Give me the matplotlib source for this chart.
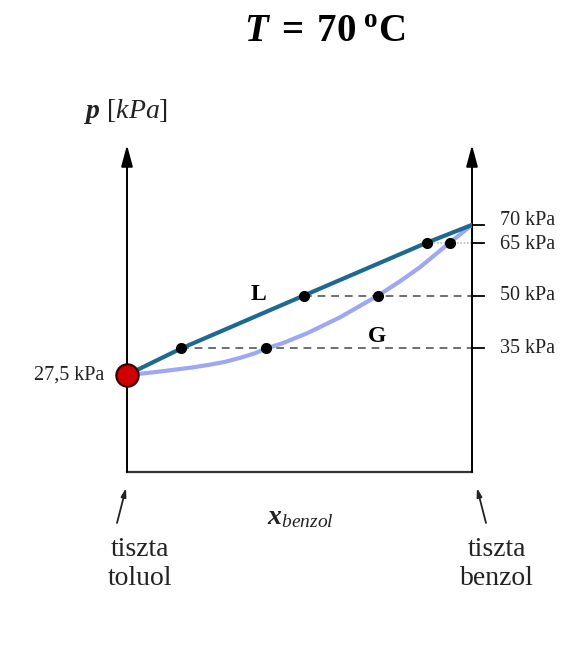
import matplotlib
matplotlib.use('Agg')
import matplotlib.pyplot as plt

plt.rcParams['font.family'] = ['Liberation Serif', 'DejaVu Serif']
plt.rcParams['mathtext.fontset'] = 'custom'
plt.rcParams['mathtext.rm'] = 'Liberation Serif'
plt.rcParams['mathtext.it'] = 'Liberation Serif:italic'
plt.rcParams['mathtext.bf'] = 'Liberation Serif:bold'
plt.rcParams['mathtext.bfit'] = 'Liberation Serif:italic:bold'

# pure component pressures at 70 C (kPa)
p_toluol = 27.5
p_benzol = 70

# liquid (bubble) line: x_benzol vs p
liq_x = [0, 0.157, 0.513, 0.870, 1]
liq_p = [27.5, 35, 50, 65, 70]

# gas (dew) curve
gas_x = [0, 0.045, 0.09, 0.14, 0.188, 0.24, 0.284, 0.33, 0.37, 0.403, 0.449,
         0.522, 0.617, 0.728, 0.791, 0.849, 0.89, 0.936, 1]
gas_p = [27.5, 27.9, 28.4, 29.0, 29.6, 30.4, 31.2, 32.4, 33.6, 35, 36.4,
         39.3, 43.8, 50, 54.0, 58.0, 61.3, 65, 70]

# tie lines (pressure, liquid x, gas x)
tie_p = [35, 50, 65]
tie_liq = [0.157, 0.513, 0.870]
tie_gas = [0.403, 0.728, 0.936]

tick_p = [70, 65, 50, 35]
tick_labels = ['70 kPa', '65 kPa', '50 kPa', '35 kPa']
tick_dy = [4, -2, 0, 0]  # small nudges so 70/65 labels don't collide

W, H = 579, 651
PX_PER_KPA = 3.53
fig = plt.figure(figsize=(W / 100, H / 100), dpi=100)
ax_h = 327
ax = fig.add_axes([127 / W, 179 / H, 345 / W, ax_h / H])
ax.set_xlim(0, 1)
ax.set_ylim(0, ax_h / PX_PER_KPA)
ax.axis('off')

# axes: two vertical arrows and the bottom line
top = ax_h / PX_PER_KPA
for xa in (0, 1):
    ax.annotate('', xy=(xa, top), xytext=(xa, 0),
                arrowprops=dict(arrowstyle='-|>,head_length=1.3,head_width=0.35',
                                color='black', lw=1.4, shrinkA=0, shrinkB=0),
                annotation_clip=False)
ax.plot([0, 1], [0, 0], color='#333333', lw=1.6, clip_on=False)

# right ticks + labels
for p, lab, dy in zip(tick_p, tick_labels, tick_dy):
    ax.plot([1, 1.035], [p, p], color='black', lw=1.3, clip_on=False)
    ax.text(1.08, p + dy / PX_PER_KPA, lab, fontsize=14.5, va='center', ha='left',
            color='#222222', clip_on=False)

# tie lines
ax.plot([tie_liq[0], 1], [tie_p[0]] * 2, ls=(0, (4, 3)), color='#6f6f6f', lw=1.4)
ax.plot([tie_liq[1], 1], [tie_p[1]] * 2, ls=(0, (4, 3)), color='#6f6f6f', lw=1.4)
ax.plot([tie_liq[2], 1], [tie_p[2]] * 2, ls=(0, (1, 1)), color='#bbbbbb', lw=1.2)

# curves
ax.plot(gas_x, gas_p, color='#9ea7f2', lw=3, solid_capstyle='round',
        solid_joinstyle='round', zorder=3)
ax.plot(liq_x, liq_p, color='#1d6a8e', lw=3, solid_capstyle='round', zorder=4)

ax.plot(tie_liq, tie_p, 'o', color='black', ms=7, zorder=5)
ax.plot(tie_gas, tie_p, 'o', color='black', ms=7, zorder=5)
ax.plot([0], [p_toluol], 'o', color='#d00000', mec='#3a0000', mew=1.6, ms=16,
        zorder=6, clip_on=False)

ax.text(-0.065, p_toluol, '27,5 kPa', fontsize=14.5, ha='right', va='center',
        color='#222222', clip_on=False)
ax.text(0.38, 50.4, 'L', fontsize=17, fontweight='bold', ha='center', va='center')
ax.text(0.724, 38.4, 'G', fontsize=17, fontweight='bold', ha='center', va='center')

# labels
fig.text(325 / W, 1 - 33 / H, r'$\mathbfit{T}\mathbf{\;=\;70\;{}^{o}C}$',
         fontsize=28, ha='center', va='center')
fig.text(126 / W, 1 - 112 / H, r'$\mathbfit{p}\ \mathit{[kPa]}$',
         fontsize=20, ha='center', va='center', color='#222222')
fig.text(300 / W, 1 - 518 / H, r'$\mathbfit{x}_{\mathit{benzol}}$',
         fontsize=20, ha='center', va='center', color='#222222')

fig.text(140 / W, 1 - 564 / H, 'tiszta\ntoluol', fontsize=20, ha='center',
         va='center', linespacing=1.25, color='#222222')
fig.text(497 / W, 1 - 564 / H, 'tiszta\nbenzol', fontsize=20, ha='center',
         va='center', linespacing=1.25, color='#222222')

ax.annotate('', xy=(126 / W, 1 - 488 / H), xytext=(117 / W, 1 - 523 / H),
            xycoords='figure fraction', textcoords='figure fraction',
            arrowprops=dict(arrowstyle='-|>,head_length=0.5,head_width=0.15',
                            color='#222222', lw=1.3, shrinkA=0, shrinkB=0))
ax.annotate('', xy=(477 / W, 1 - 488 / H), xytext=(486 / W, 1 - 523 / H),
            xycoords='figure fraction', textcoords='figure fraction',
            arrowprops=dict(arrowstyle='-|>,head_length=0.5,head_width=0.15',
                            color='#222222', lw=1.3, shrinkA=0, shrinkB=0))

fig.savefig('out.png', dpi=100)
